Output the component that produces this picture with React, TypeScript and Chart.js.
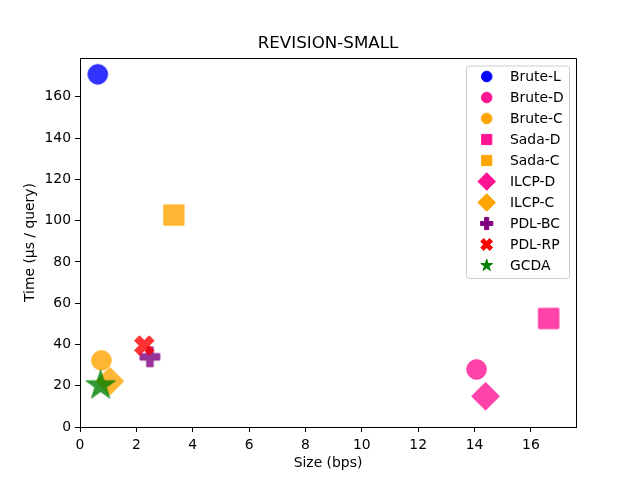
import { useEffect, useRef } from "react";
import { Chart, registerables } from "chart.js";

Chart.register(...registerables);

const seriesNames = ["Brute-L", "Brute-D", "Brute-C", "Sada-D", "Sada-C", "ILCP-D", "ILCP-C", "PDL-BC", "PDL-RP", "GCDA"];
const sizeValues = [0.63, 14.07, 0.76, 16.63, 3.33, 14.39, 1.06, 2.48, 2.28, 0.73];
const timeValues = [170.9, 27.9, 32.3, 52.6, 102.7, 14.9, 22.2, 34.0, 39.5, 20.1];
const xTicks = [0, 2, 4, 6, 8, 10, 12, 14, 16];
const yTicks = [0, 20, 40, 60, 80, 100, 120, 140, 160];

type Shape = "circle" | "square" | "diamond" | "plus" | "x" | "star";

const shapes: Shape[] = ["circle", "circle", "circle", "square", "square", "diamond", "diamond", "plus", "x", "star"];
const colors = ["0,0,255", "255,20,147", "255,165,0", "255,20,147", "255,165,0", "255,20,147", "255,165,0", "128,0,128", "255,0,0", "0,128,0"];

// half-extent of each marker in px, plot and legend
const plotSize: Record<Shape, number> = { circle: 10.3, square: 10.6, diamond: 14.3, plus: 10.3, x: 10.2, star: 16 };
const legendSize: Record<Shape, number> = { circle: 5.8, square: 5.6, diamond: 9.3, plus: 6.6, x: 6.4, star: 6.7 };

const FONT = "'DejaVu Sans', sans-serif";

function tracePath(ctx: CanvasRenderingContext2D, shape: Shape, cx: number, cy: number, r: number) {
  ctx.beginPath();
  if (shape === "circle") {
    ctx.arc(cx, cy, r - 0.5, 0, Math.PI * 2);
  } else if (shape === "square") {
    ctx.rect(cx - r + 0.5, cy - r + 0.5, 2 * r - 1, 2 * r - 1);
  } else if (shape === "diamond") {
    const d = r - 0.5;
    ctx.moveTo(cx, cy - d);
    ctx.lineTo(cx + d, cy);
    ctx.lineTo(cx, cy + d);
    ctx.lineTo(cx - d, cy);
  } else if (shape === "plus" || shape === "x") {
    let a = r - 0.5;
    if (shape === "x") a = (r - 0.5) * Math.SQRT2 * 0.75;
    const b = a / 3;
    const pts = [
      [b, a], [b, b], [a, b], [a, -b], [b, -b], [b, -a],
      [-b, -a], [-b, -b], [-a, -b], [-a, b], [-b, b], [-b, a],
    ];
    const ang = shape === "x" ? Math.PI / 4 : 0;
    pts.forEach(([px, py], i) => {
      const x = cx + px * Math.cos(ang) - py * Math.sin(ang);
      const y = cy + px * Math.sin(ang) + py * Math.cos(ang);
      if (i === 0) ctx.moveTo(x, y);
      else ctx.lineTo(x, y);
    });
  } else {
    const R = r - 0.5;
    const inner = R * 0.382;
    for (let i = 0; i < 10; i++) {
      const rad = i % 2 === 0 ? R : inner;
      const a = -Math.PI / 2 + (i * Math.PI) / 5;
      const x = cx + rad * Math.cos(a);
      const y = cy + rad * Math.sin(a);
      if (i === 0) ctx.moveTo(x, y);
      else ctx.lineTo(x, y);
    }
  }
  ctx.closePath();
}

function drawMarker(ctx: CanvasRenderingContext2D, shape: Shape, cx: number, cy: number, r: number, rgb: string, alpha: number) {
  tracePath(ctx, shape, cx, cy, r);
  ctx.fillStyle = `rgba(${rgb},${alpha})`;
  ctx.fill();
  ctx.lineWidth = 1;
  ctx.strokeStyle = `rgba(${rgb},${alpha})`;
  ctx.stroke();
}

function markerImage(shape: Shape, r: number, rgb: string, alpha: number) {
  const c = document.createElement("canvas");
  const s = Math.ceil(2 * r + 4);
  c.width = s;
  c.height = s;
  const ctx = c.getContext("2d");
  if (ctx) drawMarker(ctx, shape, s / 2, s / 2, r, rgb, alpha);
  return c;
}

const frameAndLegend = {
  id: "frameAndLegend",
  afterDraw(chart: Chart) {
    const { ctx, chartArea } = chart;
    ctx.save();
    // top and right spines
    ctx.strokeStyle = "#000";
    ctx.lineWidth = 1;
    ctx.beginPath();
    ctx.moveTo(chartArea.left, chartArea.top + 0.5);
    ctx.lineTo(chartArea.right + 0.5, chartArea.top + 0.5);
    ctx.lineTo(chartArea.right + 0.5, chartArea.bottom);
    ctx.stroke();

    // title
    ctx.fillStyle = "#000";
    ctx.font = `16.7px ${FONT}`;
    ctx.textAlign = "center";
    ctx.textBaseline = "middle";
    ctx.fillText("REVISION-SMALL", (chartArea.left + chartArea.right) / 2, 44);

    // legend
    const bx = 466, by = 65.5, bw = 103, bh = 212.5;
    ctx.beginPath();
    ctx.roundRect(bx + 0.5, by + 0.5, bw, bh, 3);
    ctx.fillStyle = "rgba(255,255,255,0.8)";
    ctx.fill();
    ctx.strokeStyle = "#cccccc";
    ctx.stroke();
    ctx.font = `13.9px ${FONT}`;
    ctx.textAlign = "left";
    seriesNames.forEach((name, i) => {
      const y = 76.5 + i * 21;
      drawMarker(ctx, shapes[i], 486.7, y, legendSize[shapes[i]], colors[i], 1);
      ctx.fillStyle = "#000";
      ctx.fillText(name, 510, y + 0.5);
    });
    ctx.restore();
  },
};

const App = () => {
  const canvasRef = useRef<HTMLCanvasElement>(null);
  const chartInstance = useRef<Chart | null>(null);

  useEffect(() => {
    document.body.style.margin = "0";
    if (!canvasRef.current) return;
    if (chartInstance.current) chartInstance.current.destroy();

    const tickFont = { family: FONT, size: 13.9 };
    const n = seriesNames.length;

    chartInstance.current = new Chart(canvasRef.current, {
      type: "scatter",
      data: {
        datasets: seriesNames.map((name, i) => ({
          label: name,
          data: [{ x: sizeValues[i], y: timeValues[i] }],
          pointStyle: markerImage(shapes[i], plotSize[shapes[i]], colors[i], 0.8),
          order: n - i,
        })),
      },
      options: {
        responsive: false,
        animation: false,
        layout: { padding: { top: 58, right: 64, left: 0, bottom: 0 } },
        plugins: {
          legend: { display: false },
          tooltip: { enabled: false },
          title: { display: false },
        },
        scales: {
          x: {
            type: "linear",
            min: 0,
            max: 17.6,
            afterBuildTicks: (s: any) => {
              s.ticks = xTicks.map((v) => ({ value: v }));
            },
            afterFit: (s: any) => {
              s.height = 53;
            },
            ticks: { font: tickFont, color: "#000", padding: 5 },
            grid: { drawOnChartArea: false, drawTicks: true, tickLength: 5, color: "#000" },
            border: { display: true, color: "#000", width: 1 },
            title: { display: true, text: "Size (bps)", font: tickFont, color: "#000", padding: { top: 0, bottom: 8 } },
          },
          y: {
            type: "linear",
            min: 0,
            max: 178.8,
            afterBuildTicks: (s: any) => {
              s.ticks = yTicks.map((v) => ({ value: v }));
            },
            afterFit: (s: any) => {
              s.width = 80;
            },
            ticks: { font: tickFont, color: "#000", padding: 4 },
            grid: { drawOnChartArea: false, drawTicks: true, tickLength: 5, color: "#000" },
            border: { display: true, color: "#000", width: 1 },
            title: { display: true, text: "Time (µs / query)", font: tickFont, color: "#000", padding: { top: 22, bottom: 0 } },
          },
        },
      },
      plugins: [frameAndLegend],
    });

    return () => {
      if (chartInstance.current) {
        chartInstance.current.destroy();
        chartInstance.current = null;
      }
    };
  }, []);

  return (
    <div style={{ width: 640, height: 480 }}>
      <canvas ref={canvasRef} width={640} height={480} />
    </div>
  );
};

export default App;
